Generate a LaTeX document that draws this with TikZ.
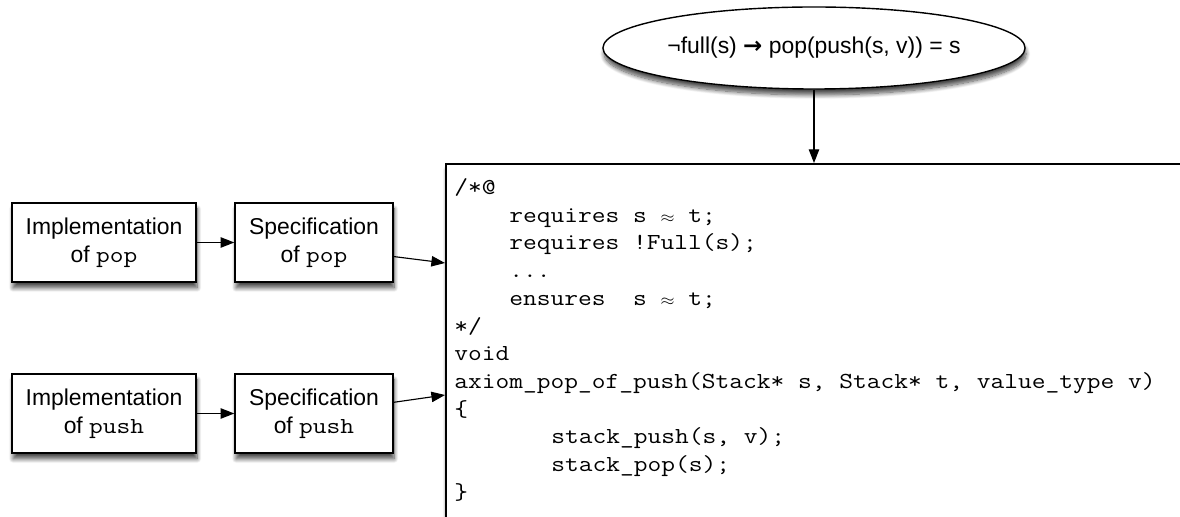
\documentclass[tikz,border=0pt]{standalone}
\usepackage{fontspec}
\setmainfont{Liberation Sans}
\newfontfamily\arrowfont{DejaVu Sans}
\usetikzlibrary{arrows.meta,shapes.geometric,shadows.blur}

% typewriter text, widened to the reference's character pitch
\newcommand\cw[1]{\scalebox{1.165}[1]{\ttfamily #1}}
\newcommand\apx{\makebox[0.525em]{$\scriptstyle\approx$}}

\begin{document}
\begin{tikzpicture}[x=0.025cm, y=-0.025cm,
  % ---- looks shared by the boxes ---------------------------------------
  shade/.style={blur shadow={shadow xshift=0.8pt, shadow yshift=-4.2pt,
    shadow opacity=70, shadow blur steps=10, shadow blur radius=3pt}},
  box/.style={draw=black, line width=1pt, fill=white, align=center, inner sep=0pt,
    minimum height=1.975cm, font=\fontsize{16.3}{19.9}\selectfont, shade},
  goal/.style={ellipse, draw=black, line width=1pt, fill=white, inner sep=0pt,
    minimum width=10.55cm, minimum height=2.05cm,
    font=\fontsize{16.3}{19.9}\selectfont, shade},
  codebox/.style={draw=black, line width=1.3pt, fill=white, inner sep=0pt, shade},
  codetxt/.style={anchor=base west, inner sep=0pt,
    font=\fontsize{16.3}{19.9}\selectfont},
  flow/.style={draw=black, line width=0.8pt, -{Triangle[length=3.4mm,width=2.6mm]}},
]
\useasboundingbox (0,0) rectangle (1180,517);
\clip (0,0) rectangle (1180,517);

% =====================================================================
%  the axiom and the annotated code
% =====================================================================
\node[goal] (goal) at (814,48)
  {¬full(s) {\arrowfont\bfseries →} pop(push(s, v)) = s};

\node[codebox, anchor=north west, minimum width=19cm, minimum height=9.5cm]
  (code) at (445,163) {};

\node[codetxt] (l0)  at (454,195) {\cw{/*@}};
\node[codetxt] (l1)  at (509,223) {\cw{requires s \apx{} t;}};
\node[codetxt] (l2)  at (509,250) {\cw{requires !Full(s);}};
\node[codetxt] (l3)  at (509,278) {\cw{...}};
\node[codetxt] (l4)  at (509,306) {\cw{ensures\ \ s \apx{} t;}};
\node[codetxt] (l5)  at (454,334) {\cw{*/}};
\node[codetxt] (l6)  at (454,361) {\cw{void}};
\node[codetxt] (l7)  at (454,389) {\cw{axiom\_pop\_of\_push(Stack* s, Stack* t, value\_type v)}};
\node[codetxt] (l8)  at (454,417) {\cw{\{}};
\node[codetxt] (l9)  at (551,444) {\cw{stack\_push(s, v);}};
\node[codetxt] (l10) at (551,472) {\cw{stack\_pop(s);}};
\node[codetxt] (l11) at (454,500) {\cw{\}}};

% =====================================================================
%  implementations and specifications
% =====================================================================
\node[box, minimum width=4.6cm]  (impop)    at (104,242.5) {Implementation\\of \cw{pop}};
\node[box, minimum width=3.95cm] (specpop)  at (314,242.5) {Specification\\of \cw{pop}};
\node[box, minimum width=4.6cm]  (impush)   at (104,413.5) {Implementation\\of \cw{push}};
\node[box, minimum width=3.95cm] (specpush) at (314,413.5) {Specification\\of \cw{push}};

% where the specifications enter the code
\coordinate (popin)  at (445,263);
\coordinate (pushin) at (445,395);

% =====================================================================
%  FLOW
% =====================================================================
\draw[flow] (goal.south) -- (goal.south |- code.north);
\draw[flow] (impop) -- (specpop);
\draw[flow] (impush) -- (specpush);
\draw[flow] (specpop.-10) -- (popin);
\draw[flow] (specpush.8) -- (pushin);

\end{tikzpicture}
\end{document}
